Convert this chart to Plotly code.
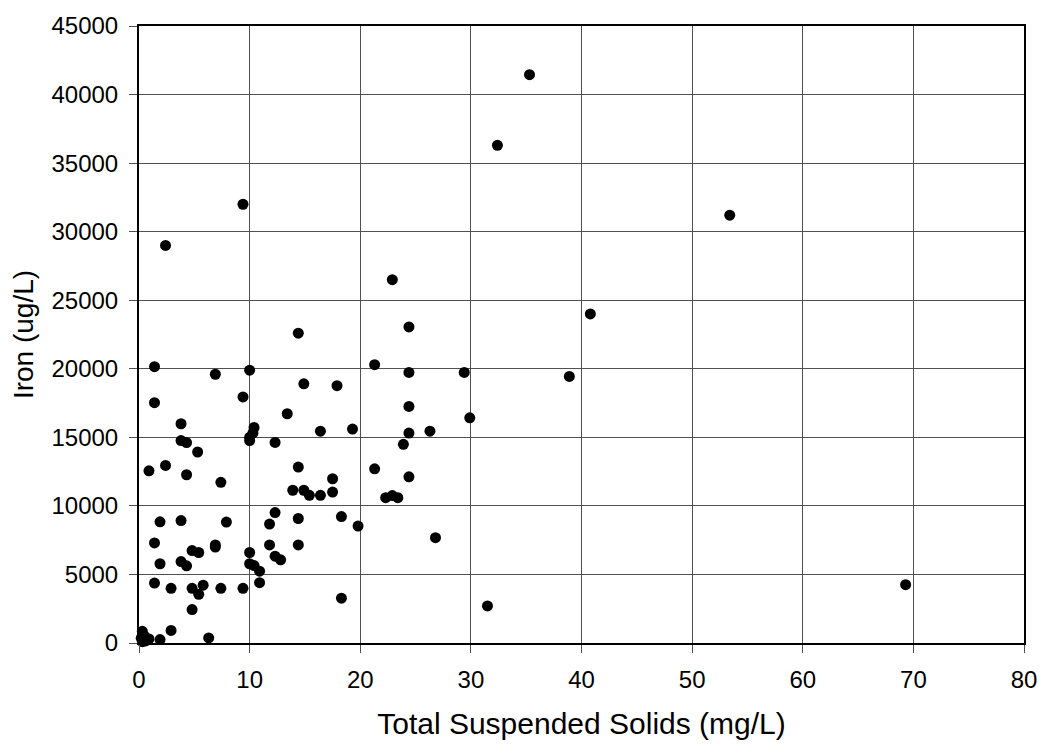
import plotly.graph_objects as go

# Total Suspended Solids (mg/L)
tss = [35.3, 32.4, 53.4, 9.4, 2.4, 22.9, 40.8, 24.4, 14.4, 21.3,
       1.4, 10.0, 29.4, 24.4, 6.9, 38.9, 14.9, 17.9, 9.4, 1.4,
       24.4, 13.4, 29.9, 3.8, 10.4, 19.3, 16.4, 26.3, 24.4, 10.3,
       10.0, 10.0, 3.8, 4.3, 12.3, 23.9, 5.3, 2.4, 14.4, 21.3,
       0.9, 4.3, 24.4, 17.5, 7.4, 13.9, 14.9, 17.5, 15.4, 16.4,
       22.3, 22.9, 23.4, 1.9, 3.8, 7.9, 11.8, 12.3, 18.3, 14.4,
       19.8, 26.8, 1.4, 6.9, 6.9, 11.8, 14.4, 10.0, 4.8, 5.4,
       12.3, 12.8, 1.9, 3.8, 4.3, 10.0, 10.4, 10.9, 10.9, 1.4,
       2.9, 4.8, 5.4, 5.8, 7.4, 9.4, 4.8, 18.3, 31.5, 69.3,
       2.9, 6.3, 1.9, 0.3, 0.2, 0.6, 0.9, 0.5, 0.3]

# Iron (ug/L)
iron = [41450, 36300, 31200, 32000, 29000, 26500, 24000, 23050, 22600, 20300,
        20150, 19900, 19730, 19730, 19600, 19440, 18900, 18770, 17950, 17530,
        17250, 16720, 16420, 15990, 15720, 15600, 15450, 15450, 15310, 15310,
        15000, 14760, 14760, 14620, 14630, 14490, 13930, 12950, 12830, 12700,
        12560, 12270, 12120, 11980, 11720, 11140, 11140, 11010, 10770, 10770,
        10600, 10750, 10600, 8840, 8930, 8820, 8670, 9510, 9220, 9080,
        8530, 7680, 7300, 7150, 7000, 7150, 7150, 6600, 6740, 6600,
        6330, 6070, 5780, 5940, 5630, 5780, 5650, 5240, 4400, 4370,
        3990, 3990, 3550, 4220, 3990, 3990, 2440, 3270, 2700, 4250,
        920, 370, 250, 850, 350, 150, 300, 500, 100]

x_ticks = [0, 10, 20, 30, 40, 50, 60, 70, 80]
y_ticks = [0, 5000, 10000, 15000, 20000, 25000, 30000, 35000, 40000, 45000]

FONT = "Liberation Sans, Arial, sans-serif"

fig = go.Figure()
fig.add_trace(go.Scatter(
    x=tss, y=iron, mode="markers",
    marker=dict(color="black", size=11, line=dict(width=0)),
    showlegend=False, cliponaxis=False,
))

axis_common = dict(
    showgrid=True, gridcolor="#505050", gridwidth=1,
    showline=True, linecolor="black", linewidth=2, mirror=True,
    ticks="outside", ticklen=8, tickcolor="#505050", tickwidth=1,
    zeroline=False,
    tickfont=dict(family=FONT, size=24, color="black"),
)

fig.update_layout(
    width=1049, height=748,
    margin=dict(l=139, r=18, t=22, b=105),
    paper_bgcolor="white", plot_bgcolor="white",
    font=dict(family=FONT, color="black"),
    xaxis=dict(range=[0, 80], tickvals=x_ticks, ticktext=[str(v) for v in x_ticks],
               ticklabelstandoff=6,
               title=dict(text="Total Suspended Solids (mg/L)",
                          font=dict(family=FONT, size=30, color="black"), standoff=21),
               **axis_common),
    yaxis=dict(range=[0, 45000], tickvals=y_ticks, ticktext=[str(v) for v in y_ticks],
               ticklabelstandoff=6,
               title=dict(text="Iron (ug/L)",
                          font=dict(family=FONT, size=28, color="black"), standoff=10),
               **axis_common),
)

fig.write_html("out.html")
